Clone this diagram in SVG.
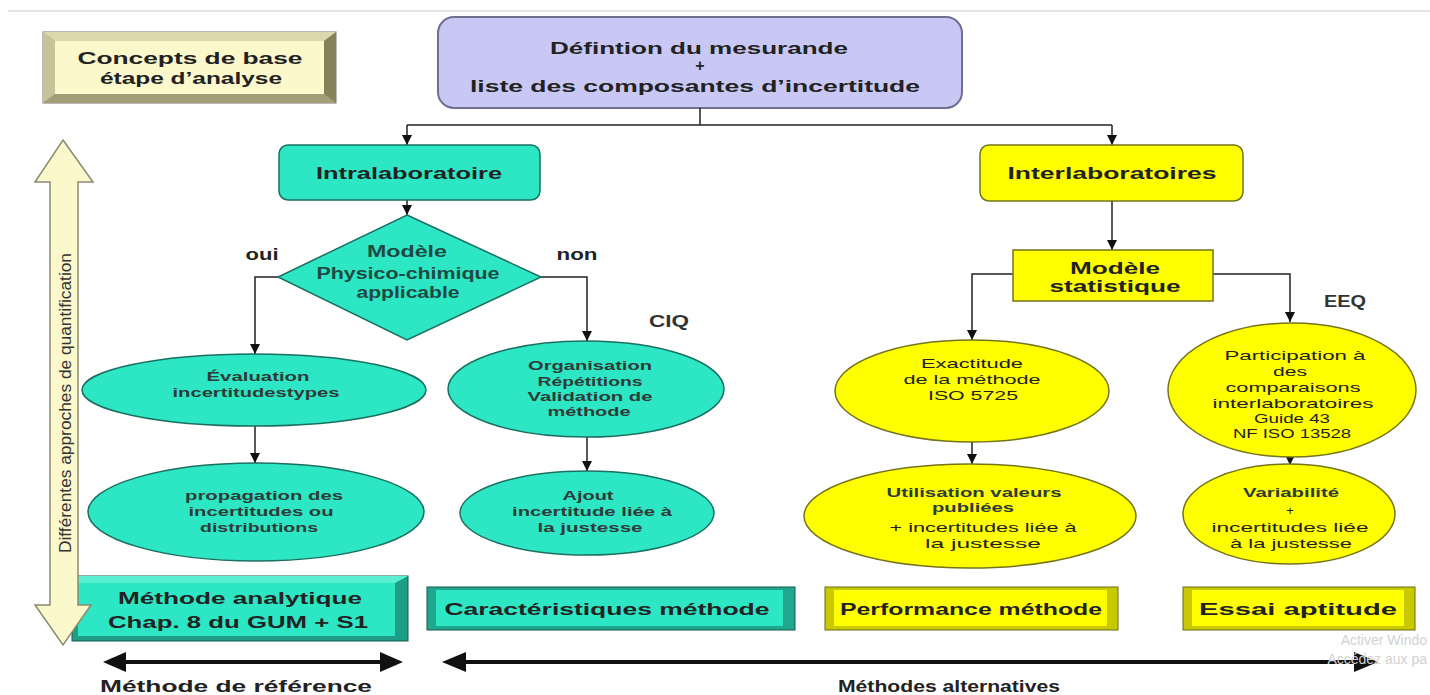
<svg xmlns="http://www.w3.org/2000/svg" width="1430" height="695" viewBox="0 0 1430 695">
<style>
text{font-family:"Liberation Sans",Arial,sans-serif;font-weight:bold;text-anchor:middle;fill:#222}
.lb{font-size:16px}
.sm{font-size:13px;fill:#2f3b38}
.rg{font-weight:normal;fill:#222}
.teal{fill:#2DE6C4;stroke:#1B6F60;stroke-width:1.5}
.yel{fill:#FFFF00;stroke:#74741C;stroke-width:1.5}
.conn{fill:none;stroke:#222;stroke-width:1.5}
.arr{marker-end:url(#ah)}
.big{fill:#111}
.wm{font-weight:normal;text-anchor:end;fill:#d2d2d2;font-size:14px}
</style>
<defs>
<marker id="ah" viewBox="0 0 10 10" refX="10" refY="5" markerWidth="10" markerHeight="10" markerUnits="userSpaceOnUse" orient="auto">
<path d="M0,0 L10,5 L0,10 z" fill="#111"/>
</marker>
</defs>
<rect width="1430" height="695" fill="#ffffff"/>
<line x1="8" y1="11" x2="1430" y2="11" stroke="#dcdcdc" stroke-width="1.5"/>

<g id="concepts">
<rect x="43" y="32" width="293" height="71" fill="#B5B18C" stroke="#777" stroke-width="1"/>
<polygon points="43,32 336,32 324,41 55,41" fill="#DCD8AE"/>
<polygon points="43,32 55,41 55,94 43,103" fill="#C6C29A"/>
<polygon points="336,32 336,103 324,94 324,41" fill="#85815A"/>
<polygon points="43,103 336,103 324,94 55,94" fill="#A29E78"/>
<rect x="55" y="41" width="269" height="53" fill="#FBF8CC"/>
<text class="lb" x="190" y="64" textLength="225" lengthAdjust="spacingAndGlyphs">Concepts de base</text>
<text class="lb" x="191" y="84" textLength="182" lengthAdjust="spacingAndGlyphs">étape d’analyse</text>
</g>

<g id="definition">
<rect x="438" y="17" width="524" height="91" rx="16" fill="#C9C8F5" stroke="#6E6E8E" stroke-width="2"/>
<text class="lb" x="699" y="54" textLength="298" lengthAdjust="spacingAndGlyphs">Défintion du mesurande</text>
<text class="lb" x="700" y="71">+</text>
<text class="lb" x="695" y="92" textLength="450" lengthAdjust="spacingAndGlyphs">liste des composantes d’incertitude</text>
</g>

<g id="connectors">
<path class="conn" d="M700,108 V125" stroke="#333"/>
<path class="conn" d="M407,125 H1112" stroke="#555" stroke-width="2"/>
<path class="conn arr" d="M407,125 V145"/>
<path class="conn arr" d="M1112,125 V145"/>
<path class="conn arr" d="M407,200 V215"/>
<path class="conn arr" d="M278,277 H255 V354"/>
<path class="conn arr" d="M541,277 H587 V341"/>
<path class="conn arr" d="M255,426 V463"/>
<path class="conn arr" d="M587,437 V471"/>
<path class="conn arr" d="M1112,201 V250"/>
<path class="conn arr" d="M1013,274 H972 V340"/>
<path class="conn arr" d="M1213,274 H1290 V322"/>
<path class="conn arr" d="M972,442 V464"/>
<path class="conn arr" d="M1290,456 V465"/>
</g>

<g id="intralaboratoire">
<rect class="teal" x="279" y="145" width="261" height="55" rx="9"/>
<text class="lb" x="409" y="179" textLength="186" lengthAdjust="spacingAndGlyphs">Intralaboratoire</text>
</g>

<g id="interlaboratoires">
<rect class="yel" x="980" y="145" width="263" height="56" rx="9"/>
<text class="lb" x="1112" y="179" textLength="209" lengthAdjust="spacingAndGlyphs">Interlaboratoires</text>
</g>

<g id="modele-physico">
<polygon class="teal" points="407,215 541,277 407,340 278,277"/>
<text class="lb" x="407" y="257" font-size="17" textLength="80" lengthAdjust="spacingAndGlyphs" style="fill:#1f4a42">Modèle</text>
<text class="lb" x="408" y="279" textLength="183" lengthAdjust="spacingAndGlyphs" style="fill:#1f4a42">Physico-chimique</text>
<text class="lb" x="408" y="298" textLength="103" lengthAdjust="spacingAndGlyphs" style="fill:#1f4a42">applicable</text>
</g>

<g id="labels">
<text class="lb" x="262" y="260" font-size="15" textLength="33" lengthAdjust="spacingAndGlyphs">oui</text>
<text class="lb" x="577" y="260" font-size="15" textLength="41" lengthAdjust="spacingAndGlyphs">non</text>
<text class="lb" x="669" y="327" font-size="15" textLength="40" lengthAdjust="spacingAndGlyphs" style="fill:#333">CIQ</text>
<text class="lb" x="1345" y="307" font-size="15" textLength="42" lengthAdjust="spacingAndGlyphs" style="fill:#333">EEQ</text>
</g>

<g id="evaluation">
<ellipse class="teal" cx="254" cy="390" rx="172" ry="36"/>
<text class="sm" x="258" y="381" textLength="103" lengthAdjust="spacingAndGlyphs">Évaluation</text>
<text class="sm" x="256" y="397" textLength="167" lengthAdjust="spacingAndGlyphs">incertitudestypes</text>
</g>

<g id="propagation">
<ellipse class="teal" cx="256" cy="512" rx="168" ry="49"/>
<text class="sm" x="264" y="500" textLength="158" lengthAdjust="spacingAndGlyphs">propagation des</text>
<text class="sm" x="261" y="516" textLength="145" lengthAdjust="spacingAndGlyphs">incertitudes ou</text>
<text class="sm" x="259" y="532" textLength="118" lengthAdjust="spacingAndGlyphs">distributions</text>
</g>

<g id="organisation">
<ellipse class="teal" cx="586" cy="389" rx="138" ry="48"/>
<text class="sm" x="590" y="370" textLength="124" lengthAdjust="spacingAndGlyphs">Organisation</text>
<text class="sm" x="590" y="386" textLength="105" lengthAdjust="spacingAndGlyphs">Répétitions</text>
<text class="sm" x="590" y="401" textLength="125" lengthAdjust="spacingAndGlyphs">Validation de</text>
<text class="sm" x="589" y="416" textLength="83" lengthAdjust="spacingAndGlyphs">méthode</text>
</g>

<g id="ajout">
<ellipse class="teal" cx="587" cy="513" rx="127" ry="42"/>
<text class="sm" x="588" y="500" textLength="51" lengthAdjust="spacingAndGlyphs">Ajout</text>
<text class="sm" x="592" y="516" textLength="160" lengthAdjust="spacingAndGlyphs">incertitude liée à</text>
<text class="sm" x="590" y="532" textLength="105" lengthAdjust="spacingAndGlyphs">la justesse</text>
</g>

<g id="modele-statistique">
<rect class="yel" x="1013" y="250" width="200" height="51"/>
<text class="lb" x="1115" y="274" textLength="90" lengthAdjust="spacingAndGlyphs">Modèle</text>
<text class="lb" x="1115" y="292" textLength="131" lengthAdjust="spacingAndGlyphs">statistique</text>
</g>

<g id="exactitude">
<ellipse class="yel" cx="972" cy="391" rx="137" ry="51"/>
<text class="sm rg" x="972" y="368" textLength="102" lengthAdjust="spacingAndGlyphs">Exactitude</text>
<text class="sm rg" x="972" y="384" textLength="137" lengthAdjust="spacingAndGlyphs">de la méthode</text>
<text class="sm rg" x="973" y="400" textLength="90" lengthAdjust="spacingAndGlyphs">ISO 5725</text>
</g>

<g id="participation">
<ellipse class="yel" cx="1292" cy="390" rx="124" ry="67"/>
<text class="sm rg" x="1295" y="360" textLength="141" lengthAdjust="spacingAndGlyphs">Participation à</text>
<text class="sm rg" x="1290" y="376" textLength="34" lengthAdjust="spacingAndGlyphs">des</text>
<text class="sm rg" x="1293" y="392" textLength="135" lengthAdjust="spacingAndGlyphs">comparaisons</text>
<text class="sm rg" x="1293" y="408" textLength="161" lengthAdjust="spacingAndGlyphs">interlaboratoires</text>
<text class="sm rg" x="1292" y="423" textLength="76" lengthAdjust="spacingAndGlyphs">Guide 43</text>
<text class="sm rg" x="1292" y="438" textLength="118" lengthAdjust="spacingAndGlyphs">NF ISO 13528</text>
</g>

<g id="utilisation">
<ellipse class="yel" cx="970" cy="516" rx="166" ry="52"/>
<text class="sm" x="974" y="497" textLength="175" lengthAdjust="spacingAndGlyphs">Utilisation valeurs</text>
<text class="sm" x="973" y="512" textLength="82" lengthAdjust="spacingAndGlyphs">publiées</text>
<text class="sm rg" x="983" y="532" textLength="187" lengthAdjust="spacingAndGlyphs">+ incertitudes liée à</text>
<text class="sm rg" x="983" y="548" textLength="116" lengthAdjust="spacingAndGlyphs">la justesse</text>
</g>

<g id="variabilite">
<ellipse class="yel" cx="1289" cy="514" rx="106" ry="50"/>
<text class="sm" x="1291" y="497" textLength="96" lengthAdjust="spacingAndGlyphs">Variabilité</text>
<text class="sm rg" x="1290" y="515">+</text>
<text class="sm rg" x="1290" y="532" textLength="157" lengthAdjust="spacingAndGlyphs">incertitudes liée</text>
<text class="sm rg" x="1291" y="548" textLength="122" lengthAdjust="spacingAndGlyphs">à la justesse</text>
</g>

<g id="methode-analytique">
<rect x="72" y="576" width="336" height="65" fill="#1E9E86" stroke="#17574b" stroke-width="1"/>
<polygon points="72,576 408,576 395,583 78,583" fill="#5AEFD3"/>
<rect x="78" y="583" width="317" height="53" fill="#2DE6C4"/>
<text class="lb" x="240" y="604" font-size="17" textLength="244" lengthAdjust="spacingAndGlyphs">Méthode analytique</text>
<text class="lb" x="238" y="628" font-size="17" textLength="260" lengthAdjust="spacingAndGlyphs">Chap. 8 du GUM + S1</text>
</g>

<g id="caracteristiques">
<rect x="427" y="587" width="368" height="43" fill="#1FA88E" stroke="#17574b" stroke-width="1"/>
<rect x="436" y="590" width="347" height="36" fill="#2DE6C4"/>
<text class="lb" x="607" y="615" font-size="17" textLength="325" lengthAdjust="spacingAndGlyphs">Caractéristiques méthode</text>
</g>

<g id="performance">
<rect x="825" y="587" width="293" height="43" fill="#C9C900" stroke="#6b6b18" stroke-width="1"/>
<rect x="834" y="590" width="273" height="36" fill="#FFFF00"/>
<text class="lb" x="971" y="615" font-size="17" textLength="262" lengthAdjust="spacingAndGlyphs">Performance méthode</text>
</g>

<g id="essai">
<rect x="1183" y="587" width="232" height="43" fill="#C9C900" stroke="#6b6b18" stroke-width="1"/>
<rect x="1192" y="590" width="212" height="36" fill="#FFFF00"/>
<text class="lb" x="1298" y="615" font-size="17" textLength="198" lengthAdjust="spacingAndGlyphs">Essai aptitude</text>
</g>

<g id="axe-vertical">
<polygon points="63,140 93,182 78,182 78,605 91,605 63,645 35,605 50,605 50,182 35,182" fill="#FBF8CC" stroke="#8a8a70" stroke-width="1.5"/>
<text transform="translate(71,403) rotate(-90)" font-size="16" textLength="300" lengthAdjust="spacingAndGlyphs" style="font-weight:normal;fill:#333">Différentes approches de quantification</text>
</g>

<g id="axe-reference">
<rect x="122" y="660" width="262" height="4" class="big"/>
<polygon class="big" points="103,662 126,652 126,672"/>
<polygon class="big" points="403,662 380,652 380,672"/>
<text class="lb" x="236" y="692" font-size="16" textLength="272" lengthAdjust="spacingAndGlyphs">Méthode de référence</text>
</g>

<g id="axe-alternatives">
<rect x="462" y="660" width="898" height="4" class="big"/>
<polygon class="big" points="442,662 466,652 466,672"/>
<polygon class="big" points="1378,662 1354,652 1354,672"/>
<text class="lb" x="949" y="692" font-size="16" textLength="222" lengthAdjust="spacingAndGlyphs">Méthodes alternatives</text>
</g>

<text class="wm" x="1427" y="645">Activer Windo</text>
<text class="wm" x="1427" y="664">Accédez aux pa</text>
</svg>
